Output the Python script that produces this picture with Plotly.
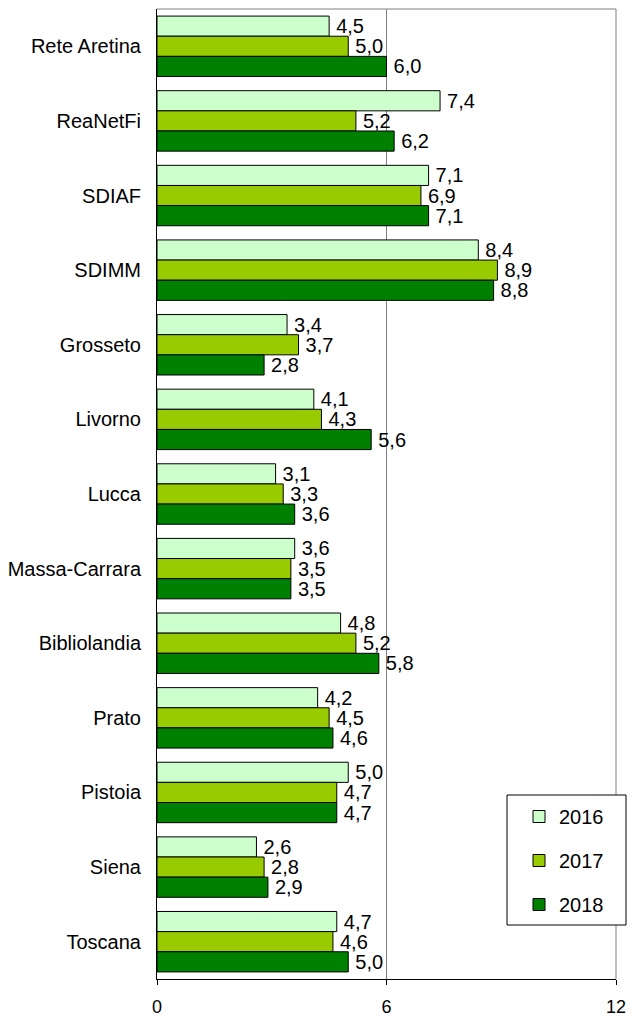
import plotly.graph_objects as go

categories = ["Rete Aretina", "ReaNetFi", "SDIAF", "SDIMM", "Grosseto", "Livorno", "Lucca",
              "Massa-Carrara", "Bibliolandia", "Prato", "Pistoia", "Siena", "Toscana"]
v2016 = [4.5, 7.4, 7.1, 8.4, 3.4, 4.1, 3.1, 3.6, 4.8, 4.2, 5.0, 2.6, 4.7]
v2017 = [5.0, 5.2, 6.9, 8.9, 3.7, 4.3, 3.3, 3.5, 5.2, 4.5, 4.7, 2.8, 4.6]
v2018 = [6.0, 6.2, 7.1, 8.8, 2.8, 5.6, 3.6, 3.5, 5.8, 4.6, 4.7, 2.9, 5.0]
series = [("2016", v2016, "#CCFFCC"), ("2017", v2017, "#99CC00"), ("2018", v2018, "#008000")]
x_ticks = [0, 6, 12]

FONT = "Liberation Sans, Arial"
fig = go.Figure()
for i, (name, vals, col) in enumerate(series):
    fig.add_trace(go.Bar(
        y=categories, x=vals, name=name, orientation="h",
        marker=dict(color=col, line=dict(color="black", width=1)),
        texttemplate="\u2009%{x:.1f}", textposition="outside", constraintext="none",
        textfont=dict(family=FONT, size=20, color="black"),
        cliponaxis=False, legendgroup=name,
    ))

W, H = 628, 1010
L, R, T, B = 149, 20, 1, 39
pw, ph = W - L - R, H - T - B

def px(vx):  # viewport x -> paper
    return (vx - 8 - L) / pw

def py(vy):  # viewport y -> paper
    return 1 - (vy - 8 - T) / ph

fig.update_layout(
    width=W, height=H,
    barmode="group", bargap=0.19, bargroupgap=0.0,
    separators=",.",
    plot_bgcolor="white", paper_bgcolor="white",
    margin=dict(l=L, r=R, t=T, b=B, autoexpand=False),
    font=dict(family=FONT, size=20, color="black"),
    legend=dict(x=px(519), y=py(797), xanchor="left", yanchor="top",
                borderwidth=0, bgcolor="rgba(0,0,0,0)",
                font=dict(size=20), traceorder="grouped", tracegroupgap=15,
                itemwidth=30),
    xaxis=dict(range=[0, 12], tickvals=x_ticks, ticktext=[str(t) for t in x_ticks],
               showgrid=True, gridcolor="#808080", gridwidth=1,
               showline=True, linecolor="black", linewidth=1,
               ticks="outside", ticklen=5, tickcolor="black",
               ticklabelstandoff=6, automargin=False,
               tickfont=dict(size=18), zeroline=False),
    yaxis=dict(autorange="reversed", showline=True, linecolor="black", linewidth=1,
               ticks="", ticklabelstandoff=11, tickfont=dict(size=20), automargin=False),
    shapes=[
        dict(type="line", xref="paper", yref="paper", x0=0, x1=1, y0=1, y1=1,
             line=dict(color="#808080", width=1)),
        dict(type="line", xref="paper", yref="paper", x0=1, x1=1, y0=0, y1=1,
             line=dict(color="#808080", width=1)),
        dict(type="rect", xref="paper", yref="paper", layer="above",
             x0=px(507), x1=px(626), y0=py(925), y1=py(795),
             fillcolor="white", line=dict(color="black", width=1)),
    ],
)

fig.write_html("out.html")
